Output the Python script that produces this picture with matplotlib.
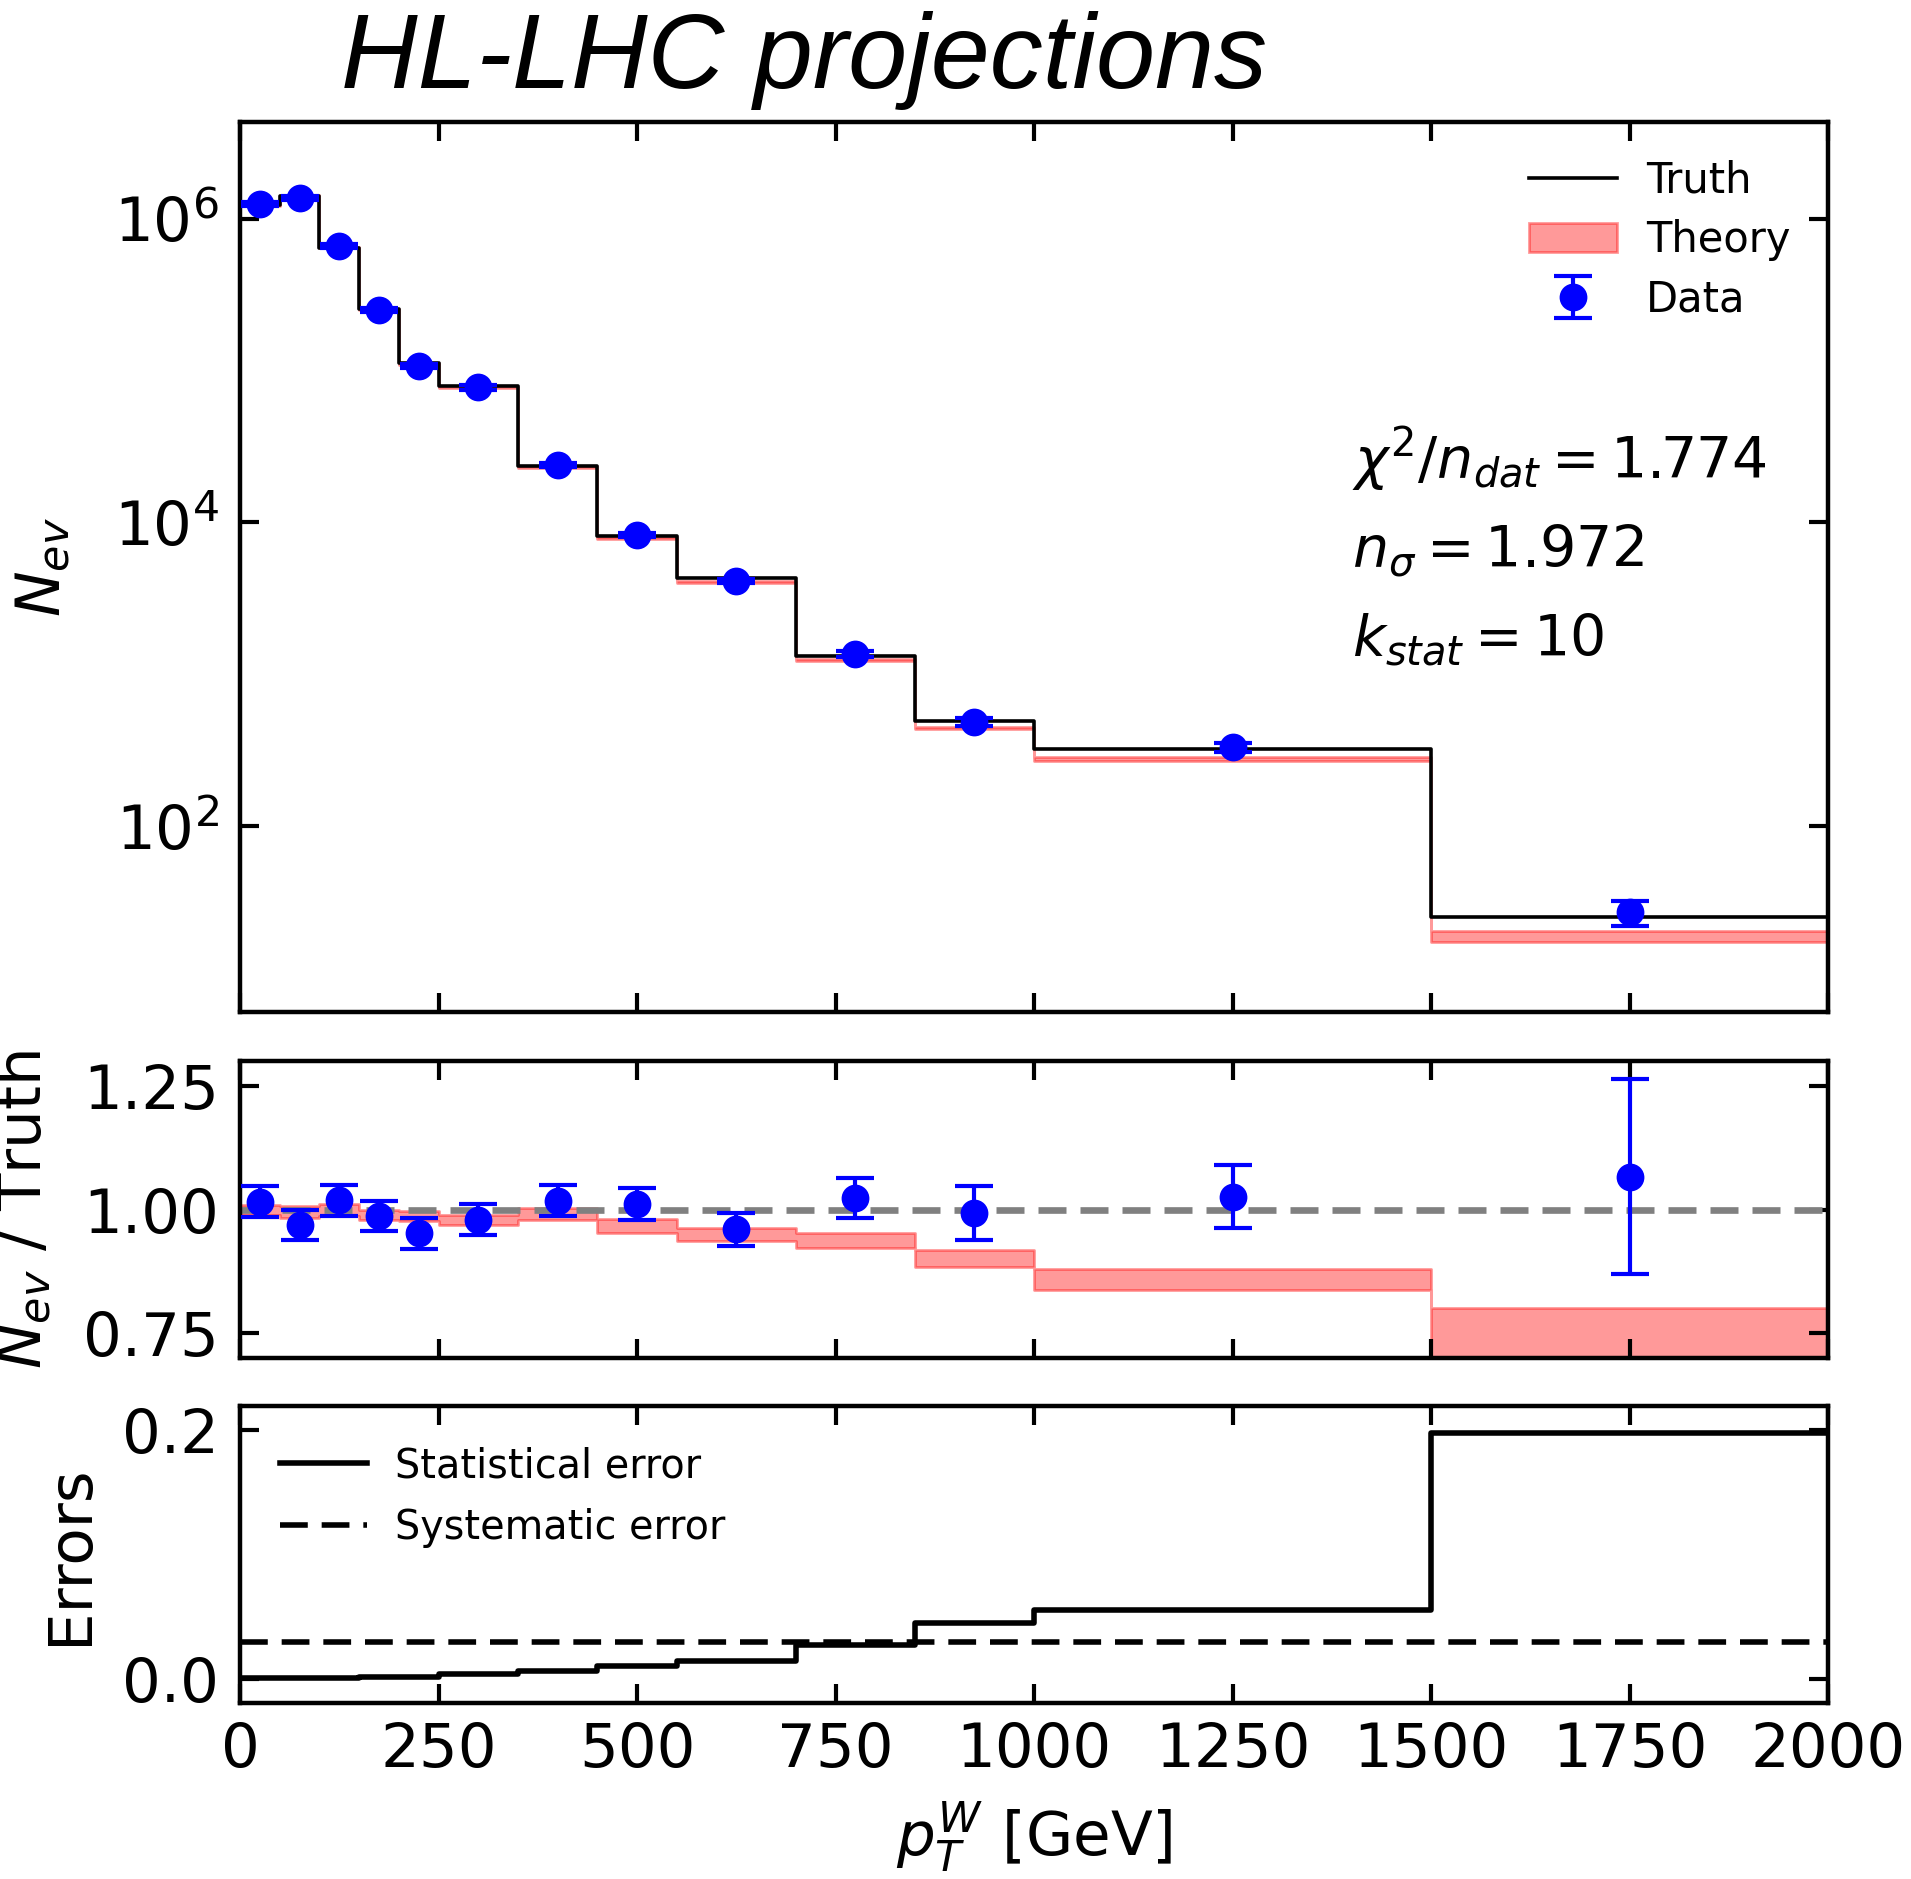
import numpy as np
import matplotlib.pyplot as plt

# bins in pT^W [GeV]
edges = [0, 50, 100, 150, 200, 250, 350, 450, 550, 700, 850, 1000, 1500, 2000]
centers = [25, 75, 125, 175, 225, 300, 400, 500, 625, 775, 925, 1250, 1750]

# truth event counts per bin
truth = [1.22e6, 1.41e6, 6.44e5, 2.55e5, 1.12e5, 7.9e4, 2.34e4, 8.2e3, 4.3e3,
         1.33e3, 491, 323, 25.5]

# theory / truth (central value and half width of band)
theory_ratio = [1.0, 0.996, 1.0, 0.99, 0.987, 0.979, 0.991, 0.967, 0.949,
                0.937, 0.902, 0.859, 0.743]
theory_hw = [0.01, 0.012, 0.012, 0.01, 0.01, 0.01, 0.012, 0.014, 0.013,
             0.015, 0.017, 0.0205, 0.059]

# pseudo-data / truth and its total relative error
data_ratio = [1.016, 0.969, 1.019, 0.987, 0.952, 0.980, 1.018, 1.011, 0.960,
              1.024, 0.993, 1.026, 1.067]
data_err = [0.031, 0.031, 0.031, 0.031, 0.031, 0.031, 0.031, 0.032, 0.034,
            0.041, 0.054, 0.064, 0.198]

# relative errors
stat_err = [0.0012, 0.0012, 0.0014, 0.0016, 0.0022, 0.004, 0.0067, 0.0107,
            0.0148, 0.0273, 0.045, 0.056, 0.198]
sys_err = [0.03, 0.03, 0.03, 0.03, 0.03, 0.03, 0.03, 0.03, 0.03, 0.03, 0.03,
           0.03, 0.03]

truth = np.array(truth)
theory_ratio = np.array(theory_ratio)
theory_hw = np.array(theory_hw)
data_ratio = np.array(data_ratio)
data_err = np.array(data_err)


def stepv(v):
    return np.append(v, v[-1])


plt.rcParams['font.family'] = 'DejaVu Sans'
plt.rcParams['mathtext.fontset'] = 'dejavusans'

fig = plt.figure(figsize=(9.555, 9.395), dpi=200)
ax1 = fig.add_axes([0.1256, 0.4614, 0.8310, 0.4735])
ax2 = fig.add_axes([0.1256, 0.2773, 0.8310, 0.1578])
ax3 = fig.add_axes([0.1256, 0.0937, 0.8310, 0.1578])

# --- top panel
ax1.step(edges, stepv(truth), where='post', color='k', lw=1.3, label='Truth')
band = ax1.fill_between(edges, stepv(truth * (theory_ratio - theory_hw)),
                        stepv(truth * (theory_ratio + theory_hw)),
                        step='post', color='red', alpha=0.4, lw=1, label='Theory')
eb = ax1.errorbar(centers, truth * data_ratio, yerr=truth * data_err, fmt='o',
                  color='blue', ms=9, capsize=7, elinewidth=1.5, capthick=1.5,
                  label='Data', zorder=5)
ax1.set_yscale('log')
ax1.set_ylim(6.0, 4.3e6)
ax1.set_yticks([1e2, 1e4, 1e6])
ax1.yaxis.set_minor_locator(plt.NullLocator())
ax1.set_ylabel(r'$N_{ev}$', fontsize=22)
ax1.yaxis.set_label_coords(-0.105, 0.5)
ax1.legend(loc='upper right', frameon=False, fontsize=15, labelspacing=0.42,
           handlelength=2.1, handletextpad=0.7)
ax1.text(0.70, 0.60, r'$\chi^2/n_{dat} = 1.774$', transform=ax1.transAxes,
         fontsize=20.5, va='baseline')
ax1.text(0.70, 0.50, r'$n_\sigma = 1.972$', transform=ax1.transAxes,
         fontsize=20.5, va='baseline')
ax1.text(0.70, 0.40, r'$k_{stat} = 10$', transform=ax1.transAxes,
         fontsize=20.5, va='baseline')

# --- ratio panel
ax2.fill_between(edges, stepv(theory_ratio - theory_hw), stepv(theory_ratio + theory_hw),
                 step='post', color='red', alpha=0.4, lw=1)
ax2.axhline(1.0, color='gray', lw=2.4, ls='--', dashes=(4.2, 2.1))
ax2.errorbar(centers, data_ratio, yerr=data_err, fmt='o', color='blue', ms=9,
             capsize=7, elinewidth=1.5, capthick=1.5, zorder=5)
ax2.set_ylim(0.7, 1.3)
ax2.set_yticks([0.75, 1.0, 1.25])
ax2.set_yticklabels(['0.75', '1.00', '1.25'])
ax2.set_ylabel(r'$N_{ev}$ / Truth', fontsize=22)
ax2.yaxis.set_label_coords(-0.117, 0.5)

# --- errors panel
ax3.step(edges, stepv(stat_err), where='post', color='k', lw=2, label='Statistical error')
ax3.step(edges, stepv(sys_err), where='post', color='k', lw=2, ls='--', dashes=(5, 2.5),
         label='Systematic error')
ax3.set_ylim(-0.019, 0.219)
ax3.set_yticks([0.0, 0.2])
ax3.set_yticklabels(['0.0', '0.2'])
ax3.set_ylabel('Errors', fontsize=22)
ax3.yaxis.set_label_coords(-0.088, 0.5)
ax3.legend(loc='upper left', frameon=False, fontsize=14.3, labelspacing=0.55,
           handlelength=2.2, handletextpad=0.7, borderaxespad=0.6)
ax3.set_xlabel(r'$p_T^W$ [GeV]', fontsize=22)
ax3.xaxis.set_label_coords(0.5, -0.325)

for ax in (ax1, ax2, ax3):
    ax.set_xlim(0, 2000)
    ax.set_xticks([0, 250, 500, 750, 1000, 1250, 1500, 1750, 2000])
    ax.tick_params(direction='in', top=True, right=True, length=7, width=1.5,
                   labelsize=22)
    ax.tick_params(axis='x', pad=6.5)
    ax.tick_params(axis='y', pad=7.5)
    for s in ax.spines.values():
        s.set_linewidth(1.6)
for ax in (ax1, ax2):
    ax.tick_params(labelbottom=False)

fig.text(0.1785, 0.9533, 'HL-LHC projections', fontsize=38.2, style='italic',
         family='Liberation Sans', ha='left', va='baseline')

fig.savefig('out.png', dpi=200)
